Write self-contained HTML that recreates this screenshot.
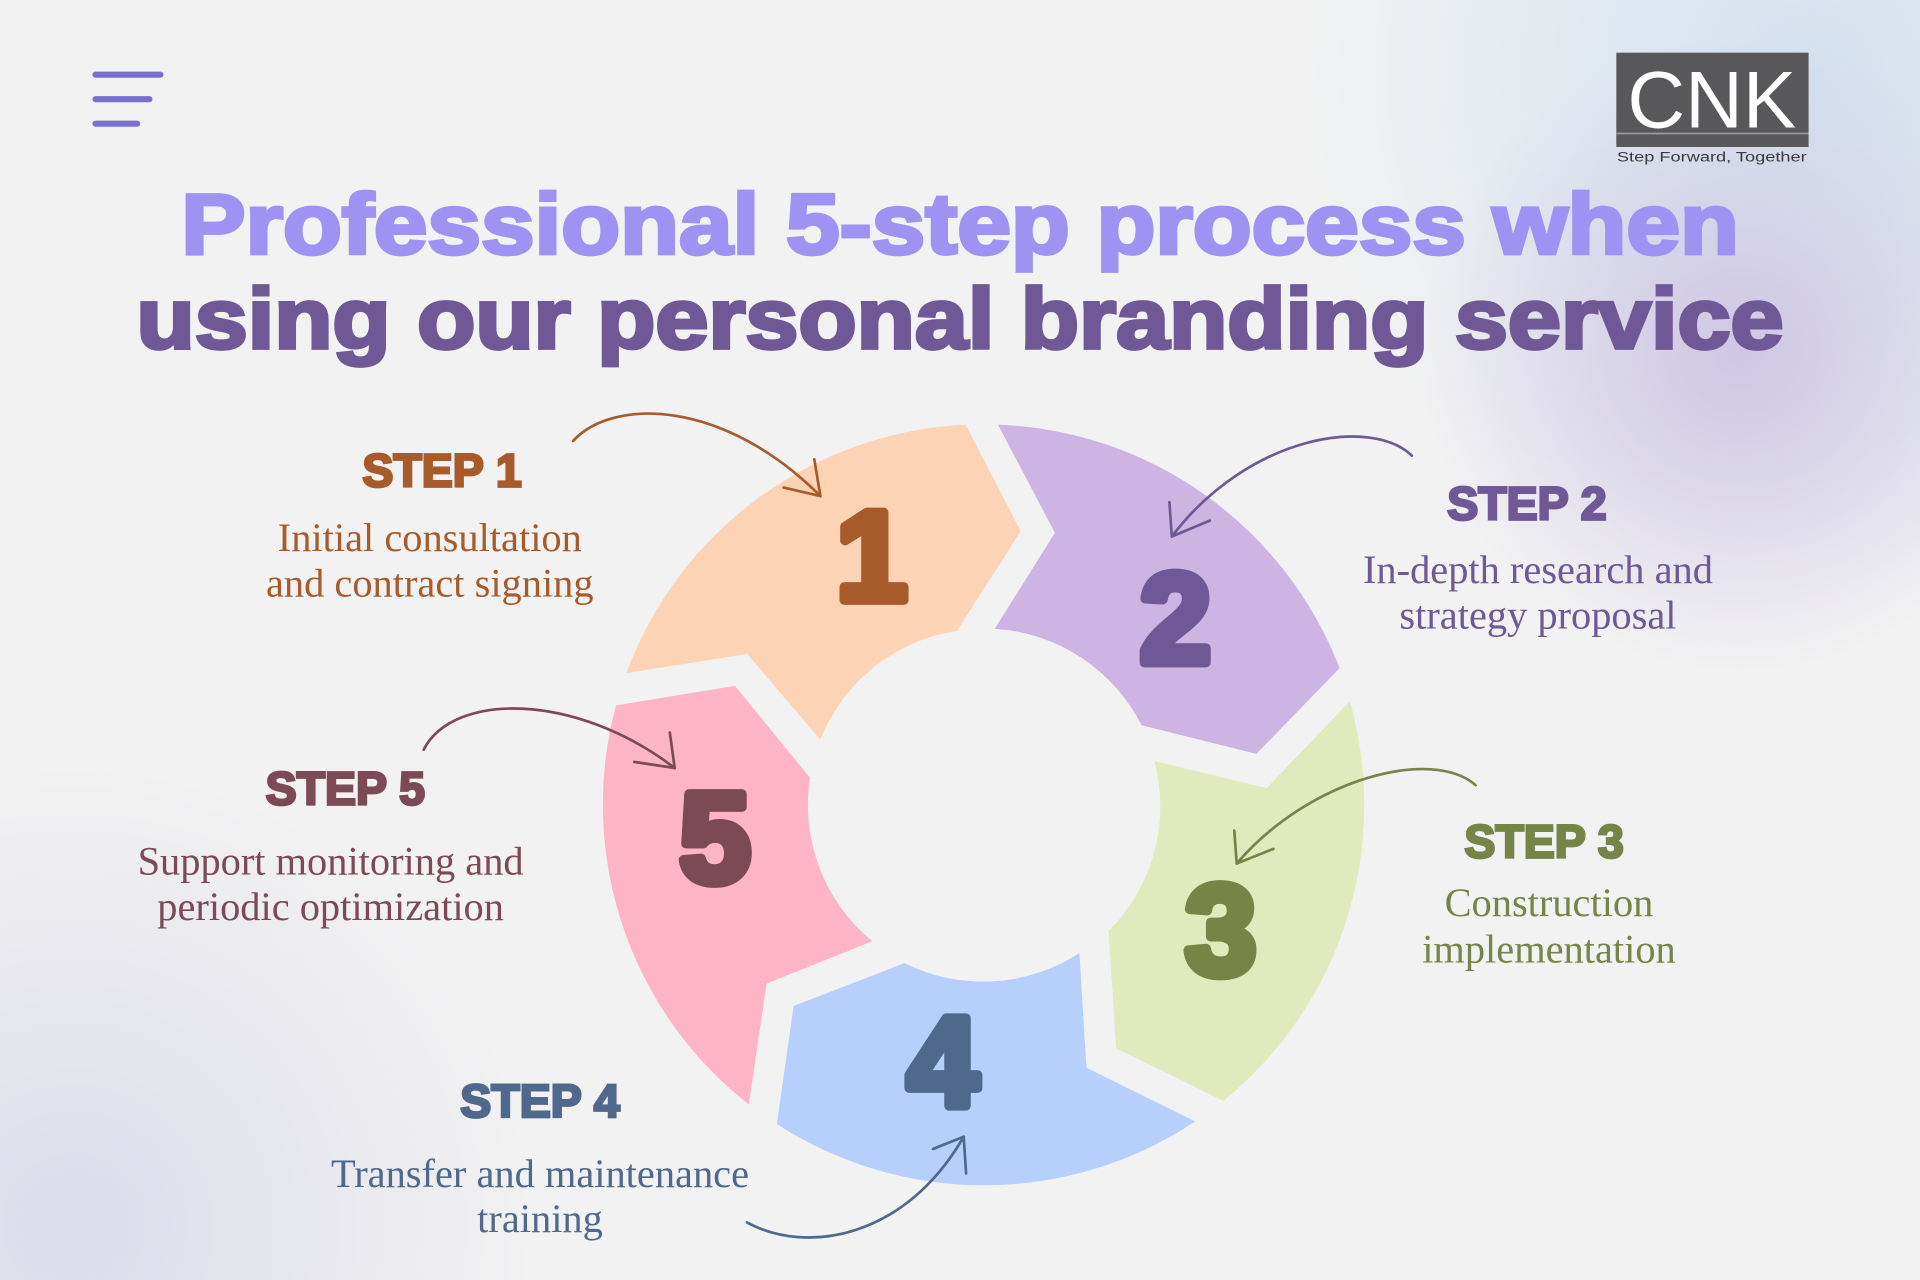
<!DOCTYPE html>
<html><head><meta charset="utf-8"><style>
html,body{margin:0;padding:0;width:1920px;height:1280px;overflow:hidden;background:#f2f2f2}
svg{display:block}
.st{font-family:"Liberation Sans",sans-serif;font-weight:bold;font-size:38px;text-anchor:middle;stroke-width:2.2}
.ds{font-family:"Liberation Serif",serif;font-size:33px;text-anchor:middle}
.num{font-family:"Liberation Sans",sans-serif;font-weight:bold;font-size:104px;text-anchor:middle;stroke-width:8;stroke-linejoin:round}
.ar{fill:none;stroke-width:2.2;stroke-linecap:round}
</style></head><body>
<svg width="1920" height="1280" viewBox="0 0 1568 1045" preserveAspectRatio="none" xmlns="http://www.w3.org/2000/svg">
<defs>
<radialGradient id="g1" cx="1480" cy="60" r="420" gradientUnits="userSpaceOnUse"><stop offset="0" stop-color="#d3e1ef"/><stop offset="1" stop-color="#d3e1ef" stop-opacity="0"/></radialGradient>
<radialGradient id="g2" cx="1420" cy="290" r="260" gradientUnits="userSpaceOnUse"><stop offset="0" stop-color="#cfc6e4"/><stop offset="1" stop-color="#cfc6e4" stop-opacity="0"/></radialGradient>
<radialGradient id="g3" cx="60" cy="1000" r="380" gradientUnits="userSpaceOnUse"><stop offset="0" stop-color="#dcdcea"/><stop offset="1" stop-color="#dcdcea" stop-opacity="0"/></radialGradient>
</defs>
<rect width="1568" height="1045" fill="#f2f2f2"/>
<rect width="1568" height="1045" fill="url(#g1)"/>
<rect width="1568" height="1045" fill="url(#g2)"/>
<rect width="1568" height="1045" fill="url(#g3)"/>

<g stroke="#7a6fd0" stroke-width="5" stroke-linecap="round">
<line x1="78" y1="61" x2="131" y2="61"/><line x1="78" y1="81" x2="122" y2="81"/><line x1="78" y1="101" x2="112" y2="101"/>
</g>
<rect x="1320" y="43" width="157" height="77" fill="#58585a"/>
<line x1="1320" y1="109" x2="1477" y2="109" stroke="#9a9a9a" stroke-width="1.5"/>
<text x="1398" y="104" font-family="Liberation Sans,sans-serif" font-size="66" fill="#fff" text-anchor="middle" textLength="138" lengthAdjust="spacingAndGlyphs">CNK</text>
<text x="1398" y="132" font-family="Liberation Sans,sans-serif" font-size="11.5" fill="#3a3a3a" text-anchor="middle" textLength="155" lengthAdjust="spacingAndGlyphs">Step Forward, Together</text>

<text x="784" y="207" font-family="Liberation Sans,sans-serif" font-weight="bold" font-size="70" fill="#a092f2" stroke="#a092f2" stroke-width="3" text-anchor="middle" textLength="1272" lengthAdjust="spacingAndGlyphs">Professional 5-step process when</text>
<text x="784" y="284" font-family="Liberation Sans,sans-serif" font-weight="bold" font-size="70" fill="#6f5896" stroke="#6f5896" stroke-width="3" text-anchor="middle" textLength="1345" lengthAdjust="spacingAndGlyphs">using our personal branding service</text>

<path d="M511.5,549.6 A311,311 0 0 1 788.6,346.7 L833.6,433.8 L781.5,515 A144,144 0 0 0 669.8,603.8 L610.2,533.8 Z" fill="#fdd3b5"/>
<path d="M815,346.7 A311,311 0 0 1 1094,545.5 L1026,615.5 L932.3,592.1 A144,144 0 0 0 812.3,513.4 L861.5,435 Z" fill="#cdb4e3"/>
<path d="M1102.4,572.5 A311,311 0 0 1 999,898.8 L911.5,855.9 L905.3,760.1 A144,144 0 0 0 942.8,621.3 L1034.4,643.4 Z" fill="#e1eabd"/>
<path d="M976.1,915.5 A311,311 0 0 1 634.4,917.6 L648.1,821.3 L738.6,786.3 A144,144 0 0 0 881.5,778 L887.3,871.7 Z" fill="#b7d0fb"/>
<path d="M611.5,901.7 A311,311 0 0 1 503.1,575.9 L600.2,560 L661.5,635 A144,144 0 0 0 712.3,768.4 L626,803 Z" fill="#fdb4c6"/>

<text class="num" x="712" y="490" fill="#a85b2a" stroke="#a85b2a">1</text>
<text class="num" x="960" y="541" fill="#6f5896" stroke="#6f5896">2</text>
<text class="num" x="997" y="795" fill="#768447" stroke="#768447">3</text>
<text class="num" x="770" y="903" fill="#4f688c" stroke="#4f688c">4</text>
<text class="num" x="584" y="720" fill="#7c4a56" stroke="#7c4a56">5</text>

<g stroke="#a85b2a"><path class="ar" d="M468,360 C500,325 590,325 670,405"/><path class="ar" d="M670,405 L665,375 M670,405 L640,398"/></g>
<g stroke="#6f5896"><path class="ar" d="M1153,372 C1120,340 1020,355 957,438"/><path class="ar" d="M957,438 L955,410 M957,438 L988,425"/></g>
<g stroke="#768447"><path class="ar" d="M1205,641 C1170,610 1070,635 1010,705"/><path class="ar" d="M1010,705 L1008,678 M1010,705 L1040,693"/></g>
<g stroke="#4f688c"><path class="ar" d="M610,998 C660,1025 740,1010 787,928"/><path class="ar" d="M787,928 L762,938 M787,928 L789,958"/></g>
<g stroke="#7c4a56"><path class="ar" d="M346,612 C370,565 470,565 551,627"/><path class="ar" d="M551,627 L547,598 M551,627 L518,622"/></g>

<text class="st" x="361" y="397" fill="#a85b2a" stroke="#a85b2a">STEP 1</text>
<text class="ds" x="351" y="450" fill="#a85b2a">Initial consultation</text>
<text class="ds" x="351" y="487" fill="#a85b2a">and contract signing</text>

<text class="st" x="1247" y="424" fill="#6f5896" stroke="#6f5896">STEP 2</text>
<text class="ds" x="1256" y="476" fill="#6f5896">In-depth research and</text>
<text class="ds" x="1256" y="513" fill="#6f5896">strategy proposal</text>

<text class="st" x="1261" y="700" fill="#768447" stroke="#768447">STEP 3</text>
<text class="ds" x="1265" y="748" fill="#768447">Construction</text>
<text class="ds" x="1265" y="786" fill="#768447">implementation</text>

<text class="st" x="441" y="912" fill="#4f688c" stroke="#4f688c">STEP 4</text>
<text class="ds" x="441" y="969" fill="#4f688c">Transfer and maintenance</text>
<text class="ds" x="441" y="1006" fill="#4f688c">training</text>

<text class="st" x="282" y="657" fill="#7c4a56" stroke="#7c4a56">STEP 5</text>
<text class="ds" x="270" y="714" fill="#7c4a56">Support monitoring and</text>
<text class="ds" x="270" y="751" fill="#7c4a56">periodic optimization</text>
</svg>
</body></html>
